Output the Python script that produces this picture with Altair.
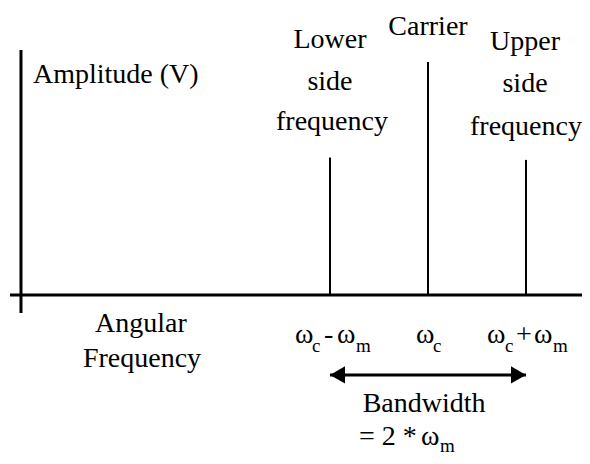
import altair as alt
import pandas as pd

FONT = "Liberation Serif, Times New Roman, serif"

# spectral lines: lower side frequency, carrier, upper side frequency
line_name = ["Lower side frequency", "Carrier", "Upper side frequency"]
line_freq = [8, 10, 12]          # wc - wm, wc, wc + wm  (wc = 10, wm = 2)
line_amp = [0.59, 1.0, 0.58]

# axis lines
haxis_x = [1.47, 13.143]
haxis_y = [0, 0]
vaxis_x = [1.694, 1.694]
vaxis_y = [-0.077, 1.052]

# labels above the lines
top_text = ["Lower", "side", "frequency", "Carrier", "Upper", "side", "frequency"]
top_x = [8, 8, 8.04, 10, 11.98, 11.98, 12.0]
top_y = [1.060, 0.880, 0.708, 1.116, 1.052, 0.871, 0.687]

# axis titles
title_text = ["Angular", "Frequency", "Bandwidth"]
title_x = [4.143, 4.163, 9.92]
title_y = [-0.159, -0.309, -0.502]

amp_text = ["Amplitude (V)"]
amp_x = [1.939]
amp_y = [0.910]

# frequency labels built from pieces (main text + subscripts)
piece_text = ["ω", "c", "-", "ω", "m",
              "ω", "c",
              "ω", "c", "+", "ω", "m",
              "= 2 *", "ω", "m"]
piece_x = [7.286, 7.633, 7.878, 8.143, 8.531,
           9.756, 10.102,
           11.205, 11.572, 11.796, 12.164, 12.551,
           8.592, 9.858, 10.245]
piece_y = [-0.206, -0.245, -0.206, -0.206, -0.245,
           -0.206, -0.245,
           -0.206, -0.245, -0.206, -0.206, -0.245,
           -0.644, -0.644, -0.674]
piece_size = [28, 19, 28, 28, 19,
              28, 19,
              28, 19, 28, 28, 19,
              28, 28, 19]

# bandwidth arrow
arrow_x = [8, 12]
arrow_y = [-0.343, -0.343]

xs = alt.Scale(domain=[1.429, 13.143], nice=False, zero=False)
ys = alt.Scale(domain=[-0.691, 1.232], nice=False, zero=False)

lines_df = pd.DataFrame({"name": line_name, "freq": line_freq, "amp": line_amp, "base": [0, 0, 0]})
haxis_df = pd.DataFrame({"x": [haxis_x[0]], "x2": [haxis_x[1]], "y": [haxis_y[0]]})
vaxis_df = pd.DataFrame({"x": [vaxis_x[0]], "y": [vaxis_y[0]], "y2": [vaxis_y[1]]})
top_df = pd.DataFrame({"t": top_text, "x": top_x, "y": top_y})
title_df = pd.DataFrame({"t": title_text, "x": title_x, "y": title_y})
amp_df = pd.DataFrame({"t": amp_text, "x": amp_x, "y": amp_y})
piece_df = pd.DataFrame({"t": piece_text, "x": piece_x, "y": piece_y, "s": piece_size})
arrow_df = pd.DataFrame({"x": [arrow_x[0]], "x2": [arrow_x[1]], "y": [arrow_y[0]]})
head_df = pd.DataFrame({"x": arrow_x, "y": arrow_y})

X = lambda f: alt.X(f, scale=xs, axis=None)
Y = lambda f: alt.Y(f, scale=ys, axis=None)

haxis = alt.Chart(haxis_df).mark_rule(color="black", strokeWidth=3).encode(x=X("x:Q"), x2="x2:Q", y=Y("y:Q"))
vaxis = alt.Chart(vaxis_df).mark_rule(color="black", strokeWidth=3).encode(x=X("x:Q"), y=Y("y:Q"), y2="y2:Q")
spectral = alt.Chart(lines_df).mark_rule(color="black", strokeWidth=2).encode(x=X("freq:Q"), y=Y("amp:Q"), y2="base:Q")

txt = dict(font=FONT, fontSize=28, baseline="alphabetic", color="black")
top = alt.Chart(top_df).mark_text(align="center", **txt).encode(x=X("x:Q"), y=Y("y:Q"), text="t:N")
titles = alt.Chart(title_df).mark_text(align="center", **txt).encode(x=X("x:Q"), y=Y("y:Q"), text="t:N")
amp = alt.Chart(amp_df).mark_text(align="left", **txt).encode(x=X("x:Q"), y=Y("y:Q"), text="t:N")
pieces = alt.Chart(piece_df).mark_text(font=FONT, align="left", baseline="alphabetic", color="black").encode(
    x=X("x:Q"), y=Y("y:Q"), text="t:N", size=alt.Size("s:Q", scale=None, legend=None))

arrow = alt.Chart(arrow_df).mark_rule(color="black", strokeWidth=3).encode(x=X("x:Q"), x2="x2:Q", y=Y("y:Q"))
heads_l = alt.Chart(head_df.iloc[[0]]).mark_point(shape="triangle-left", filled=True, size=300, color="black",
                                                  opacity=1, xOffset=7.5).encode(x=X("x:Q"), y=Y("y:Q"))
heads_r = alt.Chart(head_df.iloc[[1]]).mark_point(shape="triangle-right", filled=True, size=300, color="black",
                                                  opacity=1, xOffset=-7.5).encode(x=X("x:Q"), y=Y("y:Q"))

chart = alt.layer(haxis, vaxis, spectral, top, titles, amp, pieces, arrow, heads_l, heads_r).properties(
    width=574, height=448, padding=0, autosize=alt.AutoSizeParams(type="none"),
    background="white"
).configure_view(stroke=None)

chart.save("out.html", embed_options={"renderer": "svg", "actions": False})
